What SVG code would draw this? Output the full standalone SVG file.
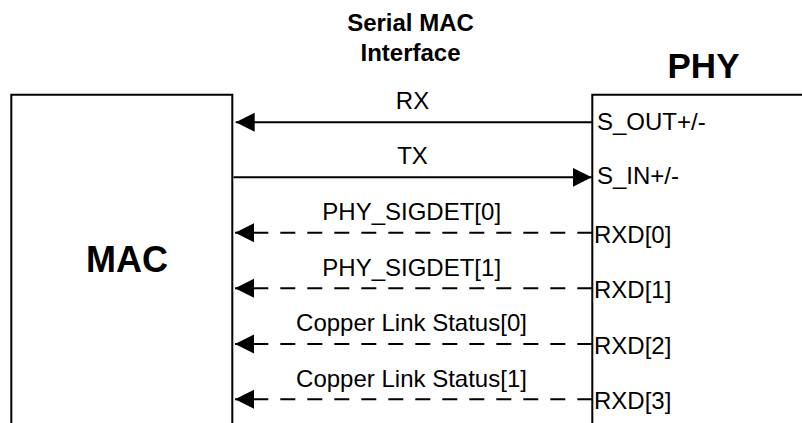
<svg xmlns="http://www.w3.org/2000/svg" width="802" height="423" viewBox="0 0 802 423">
  <defs>
    <style>
      .box { fill: none; stroke: #000; stroke-width: 2; }
      .wire { fill: none; stroke: #000; stroke-width: 2; }
      .dash { stroke-dasharray: 15 12; }
      .lbl { font-family: "Liberation Sans", Arial, sans-serif; font-size: 24px; fill: #000; }
      .mid { text-anchor: middle; }
      .bold { font-weight: bold; }
    </style>
    <marker id="ah" markerWidth="20" markerHeight="20" refX="19" refY="9.5" orient="auto" markerUnits="userSpaceOnUse">
      <path d="M0,0 L19,9.5 L0,19 Z" fill="#000"/>
    </marker>
  </defs>
  <rect width="802" height="423" fill="#fff"/>

  <g id="title">
    <text class="lbl bold mid" x="410.5" y="31">Serial MAC</text>
    <text class="lbl bold mid" x="410.5" y="61">Interface</text>
  </g>

  <g id="mac">
    <path class="box" d="M11.3,430 V94.7 H232.3 V430"/>
    <text class="lbl bold mid" x="127" y="271.5" style="font-size:36px">MAC</text>
  </g>

  <g id="phy">
    <path class="box" d="M592.3,430 V94.7 H810"/>
    <text class="lbl bold mid" x="703.5" y="78.3" style="font-size:35px">PHY</text>
    <text class="lbl" x="597" y="130">S_OUT+/-</text>
    <text class="lbl" x="597" y="184">S_IN+/-</text>
    <text class="lbl" x="594" y="242.7">RXD[0]</text>
    <text class="lbl" x="594" y="298.3">RXD[1]</text>
    <text class="lbl" x="594" y="354">RXD[2]</text>
    <text class="lbl" x="594" y="409.3">RXD[3]</text>
  </g>

  <g id="connectors">
    <path class="wire" d="M592.3,122.3 H235.7" marker-end="url(#ah)"/>
    <path class="wire" d="M233.5,177.3 H591.7" marker-end="url(#ah)"/>
    <path class="wire dash" d="M592.3,232.7 H252"/>
    <path class="wire" d="M254,232.7 H235" marker-end="url(#ah)"/>
    <path class="wire dash" d="M592.3,288.3 H252"/>
    <path class="wire" d="M254,288.3 H235" marker-end="url(#ah)"/>
    <path class="wire dash" d="M592.3,344 H252"/>
    <path class="wire" d="M254,344 H235" marker-end="url(#ah)"/>
    <path class="wire dash" d="M592.3,399.3 H252"/>
    <path class="wire" d="M254,399.3 H235" marker-end="url(#ah)"/>
    <text class="lbl mid" x="412.5" y="109">RX</text>
    <text class="lbl mid" x="412.5" y="164">TX</text>
    <text class="lbl mid" x="411.7" y="220">PHY_SIGDET[0]</text>
    <text class="lbl mid" x="411.7" y="275.5">PHY_SIGDET[1]</text>
    <text class="lbl mid" x="411.5" y="331">Copper Link Status[0]</text>
    <text class="lbl mid" x="411.5" y="386.5">Copper Link Status[1]</text>
  </g>
</svg>
